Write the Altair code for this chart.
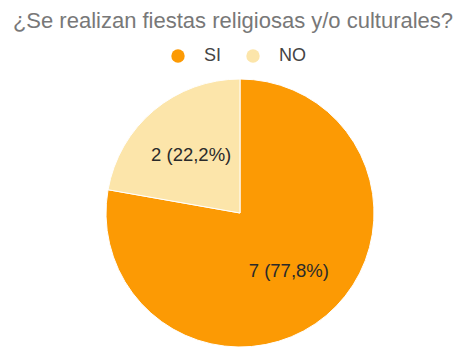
import altair as alt
import pandas as pd

categories = ["SI", "NO"]
counts = [7, 2]
colors = ["#FC9A04", "#FCE5AA"]
title_text = "¿Se realizan fiestas religiosas y/o culturales?"

total = sum(counts)
labels = [f"{c} ({c / total * 100:.1f}%)".replace(".", ",") for c in counts]
df = pd.DataFrame({"cat": categories, "n": counts, "label": labels, "ord": list(range(len(categories)))})

cx, cy, R = 232, 173, 134

base = alt.Chart(df).encode(
    theta=alt.Theta("n:Q", stack=True),
    order=alt.Order("ord:Q"),
)

arc = base.mark_arc(radius=R, stroke="white", strokeWidth=1).encode(
    x=alt.value(cx),
    y=alt.value(cy),
    color=alt.Color(
        "cat:N",
        scale=alt.Scale(domain=categories, range=colors),
        sort=categories,
        legend=alt.Legend(
            title=None,
            orient="none",
            direction="horizontal",
            legendX=161,
            legendY=7,
            symbolType="circle",
            symbolSize=180,
            symbolStrokeWidth=0,
            labelFontSize=18,
            labelFont="Liberation Sans",
            labelColor="#444444",
            labelOffset=17,
            columnPadding=22,
        ),
    ),
)

text = base.mark_text(radius=76, fontSize=18.5, font="Liberation Sans", color="#2a2a2a").encode(
    x=alt.value(cx),
    y=alt.value(cy),
    text="label:N",
)

chart = (
    alt.layer(arc, text)
    .properties(
        width=450,
        height=308,
        padding={"top": 32, "left": 0, "right": 0, "bottom": 0},
        autosize=alt.AutoSizeParams(type="none"),
        title=alt.TitleParams(
            title_text,
            anchor="middle",
            fontSize=22,
            font="Liberation Sans",
            fontWeight="normal",
            color="#787878",
            offset=7,
        ),
    )
    .configure_view(stroke=None)
)

chart.save("out.html", embed_options={"renderer": "svg", "actions": False})
